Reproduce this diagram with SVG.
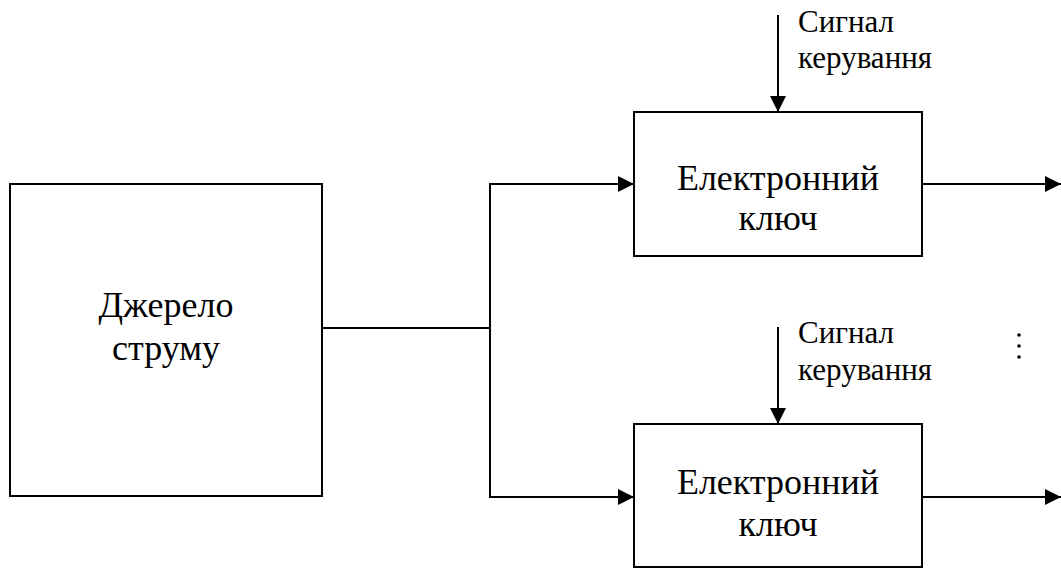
<svg xmlns="http://www.w3.org/2000/svg" width="1061" height="568" viewBox="0 0 1061 568">
<style>
.box{fill:#fff;stroke:#000;stroke-width:2}
.ln{fill:none;stroke:#000;stroke-width:2}
.big{font-family:'Liberation Serif','Times New Roman',serif;font-size:36px;fill:#000;text-anchor:middle}
.sm{font-family:'Liberation Serif','Times New Roman',serif;font-size:31px;fill:#000}
</style>
<defs>
<marker id="ah" markerUnits="userSpaceOnUse" markerWidth="16" markerHeight="16" refX="16" refY="8" orient="auto">
<path d="M0,0 L16,8 L0,16 Z" fill="#000"/>
</marker>
</defs>
<rect width="1061" height="568" fill="#fff"/>
<g id="source">
<rect class="box" x="10" y="184" width="312" height="312"/>
<text class="big" x="166" y="317">Джерело</text>
<text class="big" x="166" y="360">струму</text>
</g>
<g id="key1">
<rect class="box" x="634" y="112" width="288" height="144"/>
<text class="big" x="778" y="190">Електронний</text>
<text class="big" x="778" y="230">ключ</text>
</g>
<g id="key2">
<rect class="box" x="634" y="424" width="288" height="143"/>
<text class="big" x="778" y="494">Електронний</text>
<text class="big" x="778" y="536">ключ</text>
</g>
<g id="labels">
<text class="sm" x="798" y="32">Сигнал</text>
<text class="sm" x="798" y="68">керування</text>
<text class="sm" x="798" y="343">Сигнал</text>
<text class="sm" x="798" y="380">керування</text>
<circle cx="1019" cy="335" r="1.8" fill="#000"/>
<circle cx="1019" cy="346" r="1.8" fill="#000"/>
<circle cx="1019" cy="357" r="1.8" fill="#000"/>
</g>
<g id="connectors">
<line class="ln" x1="322" y1="328" x2="490" y2="328"/>
<line class="ln" x1="490" y1="183" x2="490" y2="497"/>
<line class="ln" x1="489" y1="184" x2="634" y2="184" marker-end="url(#ah)"/>
<line class="ln" x1="489" y1="497" x2="634" y2="497" marker-end="url(#ah)"/>
<line class="ln" x1="922" y1="184" x2="1061" y2="184" marker-end="url(#ah)"/>
<line class="ln" x1="922" y1="497" x2="1061" y2="497" marker-end="url(#ah)"/>
<line class="ln" x1="778" y1="15" x2="778" y2="112" marker-end="url(#ah)"/>
<line class="ln" x1="778" y1="327" x2="778" y2="424" marker-end="url(#ah)"/>
</g>
</svg>
